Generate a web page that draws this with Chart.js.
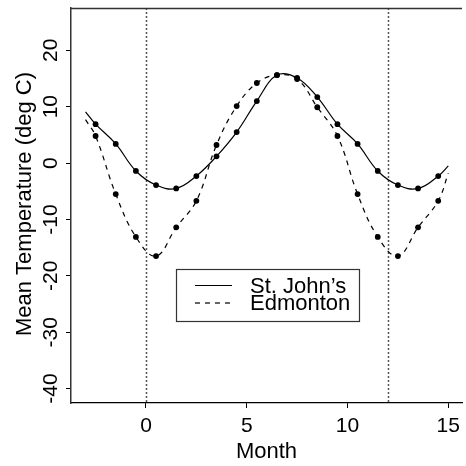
<!DOCTYPE html>
<html>
<head>
<meta charset="utf-8">
<script src="https://cdn.jsdelivr.net/npm/chart.js@4"></script>
<style>
  body { margin: 0; background: #fff; }
  canvas { display: block; }
</style>
</head>
<body>
<canvas id="tempChart" width="466" height="466"></canvas>
<script>
// mid-month positions, wrapped round one year (Oct..Dec, Jan..Dec, Jan..Mar)
const months = [-2.5, -1.5, -0.5, 0.5, 1.5, 2.5, 3.5, 4.5, 5.5, 6.5, 7.5, 8.5, 9.5, 10.5, 11.5, 12.5, 13.5, 14.5];

// mean temperatures (deg C)
const stJohns  = [6.9, 3.4, -1.4, -3.9, -4.5, -2.3, 1.2, 5.5, 11.0, 15.6, 15.1, 11.7, 6.9, 3.4, -1.4, -3.9, -4.5, -2.3];
const edmonton = [4.8, -5.5, -13.1, -16.5, -11.4, -6.7, 3.2, 10.1, 14.2, 15.6, 14.9, 9.9, 4.8, -5.5, -13.1, -16.5, -11.4, -6.7];

// smooth curve ends at month -3 and 15
const curveEndsX = [-3, 15];
const stJohnsEnds = [9.1, -0.5];
const edmontonEnds = [7.7, -1.8];

// tick labels and reference lines
const xTicks = [0, 5, 10, 15];
const yTicks = [-40, -30, -20, -10, 0, 10, 20];
const refLines = [0, 12];

const seriesNames = ["St. John\u2019s", "Edmonton"];

const FONT = '"Liberation Sans", Arial, Helvetica, sans-serif';

function pts(xs, ys) {
  return xs.map((x, i) => ({ x: x, y: ys[i] }));
}
const curveX = [curveEndsX[0], ...months, curveEndsX[1]];

// draws the box, reference lines, labels and the legend
const decorPlugin = {
  id: 'decor',
  beforeDatasetsDraw(chart) {
    const ctx = chart.ctx;
    const xs = chart.scales.x;
    const a = chart.chartArea;
    ctx.save();
    ctx.strokeStyle = '#555';
    ctx.lineWidth = 1.5;
    ctx.setLineDash([2, 2]);
    refLines.forEach(v => {
      const px = Math.round(xs.getPixelForValue(v)) + 0.5;
      ctx.beginPath();
      ctx.moveTo(px, a.top);
      ctx.lineTo(px, a.bottom);
      ctx.stroke();
    });
    ctx.restore();
  },
  afterDraw(chart) {
    const ctx = chart.ctx;
    const xs = chart.scales.x;
    const ys = chart.scales.y;
    const a = chart.chartArea;
    ctx.save();

    // top edge of box
    ctx.strokeStyle = '#333';
    ctx.lineWidth = 1.5;
    ctx.beginPath();
    ctx.moveTo(a.left, a.top + 0.5);
    ctx.lineTo(a.right, a.top + 0.5);
    ctx.stroke();

    ctx.fillStyle = '#000';
    ctx.font = '21px ' + FONT;

    // x tick labels
    ctx.textAlign = 'center';
    ctx.textBaseline = 'alphabetic';
    xTicks.forEach(v => {
      ctx.fillText(String(v), xs.getPixelForValue(v), 432);
    });

    // y tick labels, rotated
    yTicks.forEach(v => {
      ctx.save();
      ctx.translate(57, ys.getPixelForValue(v));
      ctx.rotate(-Math.PI / 2);
      ctx.fillText(String(v), 0, 0);
      ctx.restore();
    });

    // axis titles
    ctx.font = '22px ' + FONT;
    ctx.fillText('Month', (a.left + a.right) / 2, 458);
    ctx.save();
    ctx.translate(31, 204);
    ctx.rotate(-Math.PI / 2);
    ctx.fillText('Mean Temperature (deg C)', 0, 0);
    ctx.restore();

    // legend
    const bx = 176.5, by = 269.5, bw = 183, bh = 52;
    ctx.fillStyle = '#fff';
    ctx.fillRect(bx, by, bw, bh);
    ctx.strokeStyle = '#333';
    ctx.lineWidth = 1.2;
    ctx.strokeRect(bx, by, bw, bh);

    ctx.strokeStyle = '#000';
    ctx.lineWidth = 1.2;
    [[], [5, 5]].forEach((dash, i) => {
      const ly = 285.5 + i * 17.5;
      ctx.setLineDash(dash);
      ctx.beginPath();
      ctx.moveTo(195, ly);
      ctx.lineTo(232, ly);
      ctx.stroke();
    });
    ctx.setLineDash([]);

    ctx.fillStyle = '#000';
    ctx.font = '22px ' + FONT;
    ctx.textAlign = 'left';
    seriesNames.forEach((name, i) => {
      ctx.fillText(name, 250, 293 + i * 17);
    });

    ctx.restore();
  }
};

const ctx = document.getElementById('tempChart').getContext('2d');
const tempChart = new Chart(ctx, {
  type: 'scatter',
  data: {
    datasets: [
      {
        label: seriesNames[0] + ' curve',
        data: pts(curveX, [stJohnsEnds[0], ...stJohns, stJohnsEnds[1]]),
        showLine: true,
        tension: 0.4,
        borderColor: '#000',
        borderWidth: 1.2,
        pointRadius: 0
      },
      {
        label: seriesNames[1] + ' curve',
        data: pts(curveX, [edmontonEnds[0], ...edmonton, edmontonEnds[1]]),
        showLine: true,
        tension: 0.4,
        borderColor: '#000',
        borderWidth: 1.2,
        borderDash: [5, 5],
        pointRadius: 0
      },
      {
        label: seriesNames[0],
        data: pts(months, stJohns),
        pointRadius: 2.9,
        pointBackgroundColor: '#000',
        pointBorderWidth: 0
      },
      {
        label: seriesNames[1],
        data: pts(months, edmonton),
        pointRadius: 2.9,
        pointBackgroundColor: '#000',
        pointBorderWidth: 0
      }
    ]
  },
  options: {
    responsive: false,
    animation: false,
    layout: { padding: { top: 8, right: 0, left: 0, bottom: 0 } },
    plugins: {
      legend: { display: false },
      tooltip: { enabled: false }
    },
    scales: {
      x: {
        type: 'linear',
        min: -3.72,
        max: 15.68,
        afterBuildTicks: s => { s.ticks = xTicks.map(v => ({ value: v })); },
        afterFit: s => { s.height = 63; },
        ticks: { display: false },
        grid: { drawOnChartArea: false, tickLength: 5, color: '#000', lineWidth: 1 },
        border: { color: '#000', width: 1.2 }
      },
      y: {
        type: 'linear',
        min: -42.55,
        max: 27.5,
        afterBuildTicks: s => { s.ticks = yTicks.map(v => ({ value: v })); },
        afterFit: s => { s.width = 71; },
        ticks: { display: false },
        grid: { drawOnChartArea: false, tickLength: 5, color: '#000', lineWidth: 1 },
        border: { color: '#333', width: 1.5 }
      }
    }
  },
  plugins: [decorPlugin]
});
</script>
</body>
</html>
